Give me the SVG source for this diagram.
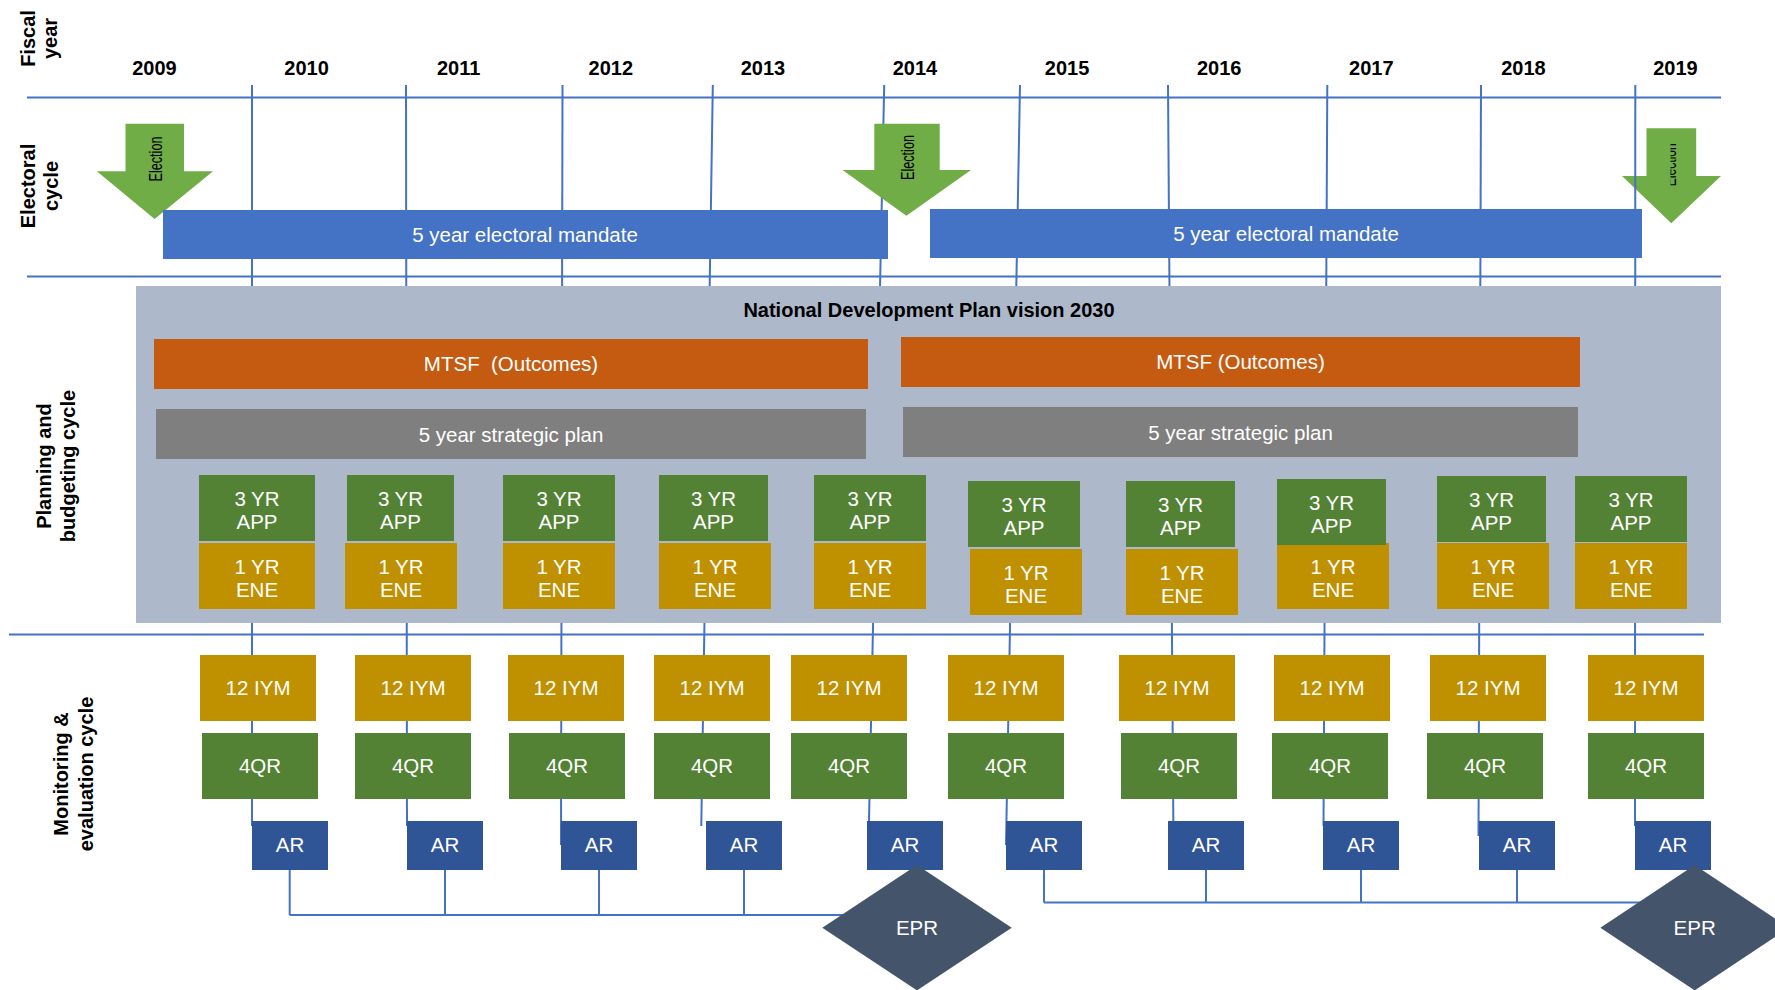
<svg xmlns="http://www.w3.org/2000/svg" width="1775" height="990" viewBox="0 0 1775 990">
<style>
text{font-family:"Liberation Sans",Arial,sans-serif;}
.lbl{font-size:20px;font-weight:bold;fill:#000;text-anchor:middle;}
.yr{font-size:20px;font-weight:bold;fill:#000;text-anchor:middle;}
.wt{font-size:20.5px;fill:#FFFFFF;text-anchor:middle;}
.el{font-size:18px;fill:#000;text-anchor:middle;}
.grid{stroke:#4472C4;stroke-width:2;fill:none;}
.conn{stroke:#4472C4;stroke-width:2;fill:none;}
.arrow{fill:#70AD47;}
.mand{fill:#4472C4;}
.panel{fill:#ADB9CA;}
.mtsf{fill:#C55A11;}
.strat{fill:#7F7F7F;}
.green{fill:#548235;}
.gold{fill:#BF9000;}
.ar{fill:#2F5597;}
.epr{fill:#44546A;}
</style>
<defs>
<clipPath id="clip3"><rect x="1670.5" y="120" width="60" height="100"/></clipPath>
</defs>
<rect width="1775" height="990" fill="#FFFFFF"/>

<!-- row labels -->
<g id="row-labels">
<text class="lbl" transform="translate(35,38.5) rotate(-90)">Fiscal</text>
<text class="lbl" transform="translate(57,38.5) rotate(-90)">year</text>
<text class="lbl" transform="translate(35,186) rotate(-90)">Electoral</text>
<text class="lbl" transform="translate(58,186) rotate(-90)">cycle</text>
<text class="lbl" transform="translate(50.5,466) rotate(-90)">Planning and</text>
<text class="lbl" transform="translate(75,466) rotate(-90)">budgeting cycle</text>
<text class="lbl" transform="translate(67.5,774) rotate(-90)">Monitoring &amp;</text>
<text class="lbl" transform="translate(92.5,774) rotate(-90)">evaluation cycle</text>
</g>

<!-- years -->
<g id="years">
<text class="yr" x="154.5" y="75">2009</text>
<text class="yr" x="306.6" y="75">2010</text>
<text class="yr" x="458.7" y="75">2011</text>
<text class="yr" x="610.8" y="75">2012</text>
<text class="yr" x="762.9" y="75">2013</text>
<text class="yr" x="915" y="75">2014</text>
<text class="yr" x="1067.1" y="75">2015</text>
<text class="yr" x="1219.2" y="75">2016</text>
<text class="yr" x="1371.3" y="75">2017</text>
<text class="yr" x="1523.4" y="75">2018</text>
<text class="yr" x="1675.5" y="75">2019</text>
</g>

<!-- election arrow 3 (behind grid) -->
<g id="election-3">
<polygon class="arrow" points="1646.5,128.3 1696.2,128.3 1696.2,176 1721,176 1671.3,223.3 1622,176 1646.5,176"/>
<g clip-path="url(#clip3)">
<text class="el" transform="translate(1676.3,164.7) rotate(-90)" textLength="43" lengthAdjust="spacingAndGlyphs">Election</text>
</g>
</g>

<!-- grid lines -->
<g id="grid" class="grid">
<line x1="27" y1="97.5" x2="1721" y2="97.5"/>
<line x1="27" y1="276.5" x2="1721" y2="276.5"/>
<line x1="9" y1="634.5" x2="1704" y2="634.5"/>
<line x1="252" y1="85" x2="252" y2="826"/>
<line x1="406" y1="85" x2="407" y2="826"/>
<line x1="562.5" y1="85" x2="561" y2="845"/>
<line x1="712.8" y1="85" x2="701.3" y2="826"/>
<line x1="884.2" y1="85" x2="868.5" y2="845"/>
<line x1="1020" y1="85" x2="1006" y2="845"/>
<line x1="1168" y1="85" x2="1173.5" y2="845"/>
<line x1="1327.3" y1="85" x2="1323.5" y2="826"/>
<line x1="1481" y1="85" x2="1478.5" y2="836"/>
<line x1="1635.3" y1="85" x2="1635" y2="826"/>
</g>

<!-- election arrows 1 and 2 -->
<g id="election-1">
<polygon class="arrow" points="125.5,123.7 184,123.7 184,171.3 213,171.3 154.6,219 96.8,171.3 125.5,171.3"/>
<text class="el" transform="translate(162,159) rotate(-90)" textLength="45" lengthAdjust="spacingAndGlyphs">Election</text>
</g>
<g id="election-2">
<polygon class="arrow" points="874.3,123.7 939.7,123.7 939.7,170 971,170 906.4,215.7 842.5,170 874.3,170"/>
<text class="el" transform="translate(913.7,157.5) rotate(-90)" textLength="45" lengthAdjust="spacingAndGlyphs">Election</text>
</g>

<!-- mandates -->
<g id="mandate-1">
<rect class="mand" x="163" y="210" width="725" height="49"/>
<text class="wt" x="525" y="242">5 year electoral mandate</text>
</g>
<g id="mandate-2">
<rect class="mand" x="930" y="209" width="712" height="49"/>
<text class="wt" x="1286" y="240.7">5 year electoral mandate</text>
</g>

<!-- planning panel -->
<g id="ndp-panel">
<rect class="panel" x="136" y="286" width="1585" height="337"/>
<text class="lbl" x="929" y="316.7">National Development Plan vision 2030</text>
</g>
<g id="mtsf-1">
<rect class="mtsf" x="154" y="339" width="714" height="50"/>
<text class="wt" x="511" y="370.7" xml:space="preserve">MTSF  (Outcomes)</text>
</g>
<g id="mtsf-2">
<rect class="mtsf" x="901" y="337" width="679" height="50"/>
<text class="wt" x="1240.5" y="369.3">MTSF (Outcomes)</text>
</g>
<g id="strat-1">
<rect class="strat" x="156" y="409" width="710" height="50"/>
<text class="wt" x="511" y="441.7">5 year strategic plan</text>
</g>
<g id="strat-2">
<rect class="strat" x="903" y="407" width="675" height="50"/>
<text class="wt" x="1240.5" y="440">5 year strategic plan</text>
</g>

<!-- APP / ENE -->
<g id="ene-1"><rect class="gold" x="199" y="543" width="116" height="66"/><text class="wt" x="257" y="573.8">1 YR</text><text class="wt" x="257" y="597.2">ENE</text></g>
<g id="app-1"><rect class="green" x="199" y="475" width="116" height="66"/><text class="wt" x="257" y="505.8">3 YR</text><text class="wt" x="257" y="529.2">APP</text></g>

<g id="ene-2"><rect class="gold" x="345" y="543" width="112" height="66"/><text class="wt" x="401" y="573.8">1 YR</text><text class="wt" x="401" y="597.2">ENE</text></g>
<g id="app-2"><rect class="green" x="347" y="475" width="107" height="66"/><text class="wt" x="400.5" y="505.8">3 YR</text><text class="wt" x="400.5" y="529.2">APP</text></g>

<g id="ene-3"><rect class="gold" x="503" y="543" width="112" height="66"/><text class="wt" x="559" y="573.8">1 YR</text><text class="wt" x="559" y="597.2">ENE</text></g>
<g id="app-3"><rect class="green" x="503" y="475" width="112" height="66"/><text class="wt" x="559" y="505.8">3 YR</text><text class="wt" x="559" y="529.2">APP</text></g>

<g id="ene-4"><rect class="gold" x="659" y="543" width="112" height="66"/><text class="wt" x="715" y="573.8">1 YR</text><text class="wt" x="715" y="597.2">ENE</text></g>
<g id="app-4"><rect class="green" x="659" y="475" width="109" height="66"/><text class="wt" x="713.5" y="505.8">3 YR</text><text class="wt" x="713.5" y="529.2">APP</text></g>

<g id="ene-5"><rect class="gold" x="814" y="543" width="112" height="66"/><text class="wt" x="870" y="573.8">1 YR</text><text class="wt" x="870" y="597.2">ENE</text></g>
<g id="app-5"><rect class="green" x="814" y="475" width="112" height="66"/><text class="wt" x="870" y="505.8">3 YR</text><text class="wt" x="870" y="529.2">APP</text></g>

<g id="ene-6"><rect class="gold" x="970" y="549" width="112" height="66"/><text class="wt" x="1026" y="579.8">1 YR</text><text class="wt" x="1026" y="603.2">ENE</text></g>
<g id="app-6"><rect class="green" x="968" y="481" width="112" height="66"/><text class="wt" x="1024" y="511.8">3 YR</text><text class="wt" x="1024" y="535.2">APP</text></g>

<g id="ene-7"><rect class="gold" x="1126" y="549" width="112" height="66"/><text class="wt" x="1182" y="579.8">1 YR</text><text class="wt" x="1182" y="603.2">ENE</text></g>
<g id="app-7"><rect class="green" x="1126" y="481" width="109" height="66"/><text class="wt" x="1180.5" y="511.8">3 YR</text><text class="wt" x="1180.5" y="535.2">APP</text></g>

<g id="ene-8"><rect class="gold" x="1277" y="543" width="112" height="66"/><text class="wt" x="1333" y="573.8">1 YR</text><text class="wt" x="1333" y="597.2">ENE</text></g>
<g id="app-8"><rect class="green" x="1277" y="479" width="109" height="66"/><text class="wt" x="1331.5" y="509.8">3 YR</text><text class="wt" x="1331.5" y="533.2">APP</text></g>

<g id="ene-9"><rect class="gold" x="1437" y="543" width="112" height="66"/><text class="wt" x="1493" y="573.8">1 YR</text><text class="wt" x="1493" y="597.2">ENE</text></g>
<g id="app-9"><rect class="green" x="1437" y="476" width="109" height="66"/><text class="wt" x="1491.5" y="506.8">3 YR</text><text class="wt" x="1491.5" y="530.2">APP</text></g>

<g id="ene-10"><rect class="gold" x="1575" y="543" width="112" height="66"/><text class="wt" x="1631" y="573.8">1 YR</text><text class="wt" x="1631" y="597.2">ENE</text></g>
<g id="app-10"><rect class="green" x="1575" y="476" width="112" height="66"/><text class="wt" x="1631" y="506.8">3 YR</text><text class="wt" x="1631" y="530.2">APP</text></g>

<!-- connectors -->
<g id="connectors" class="conn">
<path d="M289.7,870 V915 M445,870 V915 M599,870 V915 M744,870 V915 M289.7,915 H917"/>
<path d="M1044,870 V902.5 M1206,870 V902.5 M1361,870 V902.5 M1517,870 V902.5 M1044,902.5 H1695"/>
</g>

<!-- IYM -->
<g id="iym-1"><rect class="gold" x="200" y="655" width="116" height="66"/><text class="wt" x="258" y="695">12 IYM</text></g>
<g id="iym-2"><rect class="gold" x="355" y="655" width="116" height="66"/><text class="wt" x="413" y="695">12 IYM</text></g>
<g id="iym-3"><rect class="gold" x="508" y="655" width="116" height="66"/><text class="wt" x="566" y="695">12 IYM</text></g>
<g id="iym-4"><rect class="gold" x="654" y="655" width="116" height="66"/><text class="wt" x="712" y="695">12 IYM</text></g>
<g id="iym-5"><rect class="gold" x="791" y="655" width="116" height="66"/><text class="wt" x="849" y="695">12 IYM</text></g>
<g id="iym-6"><rect class="gold" x="948" y="655" width="116" height="66"/><text class="wt" x="1006" y="695">12 IYM</text></g>
<g id="iym-7"><rect class="gold" x="1119" y="655" width="116" height="66"/><text class="wt" x="1177" y="695">12 IYM</text></g>
<g id="iym-8"><rect class="gold" x="1274" y="655" width="116" height="66"/><text class="wt" x="1332" y="695">12 IYM</text></g>
<g id="iym-9"><rect class="gold" x="1430" y="655" width="116" height="66"/><text class="wt" x="1488" y="695">12 IYM</text></g>
<g id="iym-10"><rect class="gold" x="1588" y="655" width="116" height="66"/><text class="wt" x="1646" y="695">12 IYM</text></g>

<!-- 4QR -->
<g id="qr-1"><rect class="green" x="202" y="733" width="116" height="66"/><text class="wt" x="260" y="772.7">4QR</text></g>
<g id="qr-2"><rect class="green" x="355" y="733" width="116" height="66"/><text class="wt" x="413" y="772.7">4QR</text></g>
<g id="qr-3"><rect class="green" x="509" y="733" width="116" height="66"/><text class="wt" x="567" y="772.7">4QR</text></g>
<g id="qr-4"><rect class="green" x="654" y="733" width="116" height="66"/><text class="wt" x="712" y="772.7">4QR</text></g>
<g id="qr-5"><rect class="green" x="791" y="733" width="116" height="66"/><text class="wt" x="849" y="772.7">4QR</text></g>
<g id="qr-6"><rect class="green" x="948" y="733" width="116" height="66"/><text class="wt" x="1006" y="772.7">4QR</text></g>
<g id="qr-7"><rect class="green" x="1121" y="733" width="116" height="66"/><text class="wt" x="1179" y="772.7">4QR</text></g>
<g id="qr-8"><rect class="green" x="1272" y="733" width="116" height="66"/><text class="wt" x="1330" y="772.7">4QR</text></g>
<g id="qr-9"><rect class="green" x="1427" y="733" width="116" height="66"/><text class="wt" x="1485" y="772.7">4QR</text></g>
<g id="qr-10"><rect class="green" x="1588" y="733" width="116" height="66"/><text class="wt" x="1646" y="772.7">4QR</text></g>

<!-- AR -->
<g id="ar-1"><rect class="ar" x="252" y="821" width="76" height="49"/><text class="wt" x="290" y="851.7">AR</text></g>
<g id="ar-2"><rect class="ar" x="407" y="821" width="76" height="49"/><text class="wt" x="445" y="851.7">AR</text></g>
<g id="ar-3"><rect class="ar" x="561" y="821" width="76" height="49"/><text class="wt" x="599" y="851.7">AR</text></g>
<g id="ar-4"><rect class="ar" x="706" y="821" width="76" height="49"/><text class="wt" x="744" y="851.7">AR</text></g>
<g id="ar-5"><rect class="ar" x="867" y="821" width="76" height="49"/><text class="wt" x="905" y="851.7">AR</text></g>
<g id="ar-6"><rect class="ar" x="1006" y="821" width="76" height="49"/><text class="wt" x="1044" y="851.7">AR</text></g>
<g id="ar-7"><rect class="ar" x="1168" y="821" width="76" height="49"/><text class="wt" x="1206" y="851.7">AR</text></g>
<g id="ar-8"><rect class="ar" x="1323" y="821" width="76" height="49"/><text class="wt" x="1361" y="851.7">AR</text></g>
<g id="ar-9"><rect class="ar" x="1479" y="821" width="76" height="49"/><text class="wt" x="1517" y="851.7">AR</text></g>
<g id="ar-10"><rect class="ar" x="1635" y="821" width="76" height="49"/><text class="wt" x="1673" y="851.7">AR</text></g>

<!-- EPR -->
<g id="epr-1"><polygon class="epr" points="917,865 1011.7,927.7 917,990.4 822.3,927.7"/><text class="wt" x="917" y="935">EPR</text></g>
<g id="epr-2"><polygon class="epr" points="1694.7,865 1789,927.7 1694.7,990.4 1600.4,927.7"/><text class="wt" x="1694.7" y="935">EPR</text></g>
</svg>
